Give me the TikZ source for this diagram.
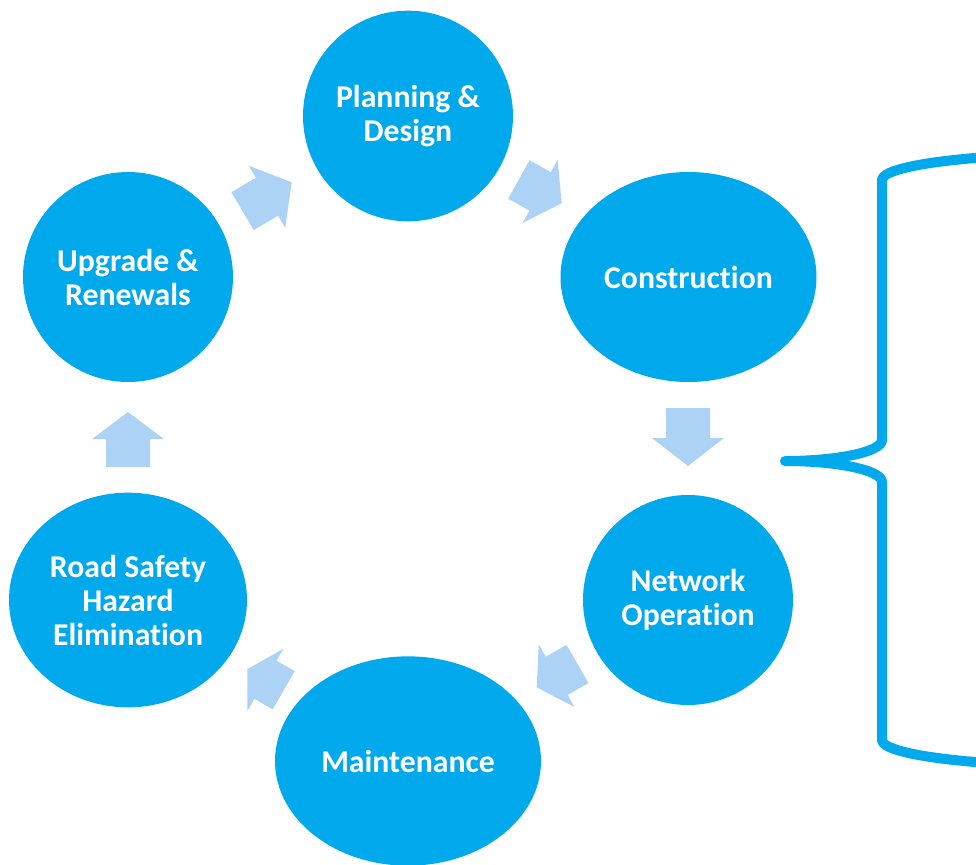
\documentclass[tikz,border=0pt]{standalone}
\usepackage{fontspec}
\setmainfont{Carlito}[RawFeature=-liga]
\usetikzlibrary{shapes.geometric}
\definecolor{cycblue}{RGB}{0,168,236}
\definecolor{arrblue}{RGB}{172,210,245}
\newcommand\blockarrow[6]{% name, tip x, tip y, angle, length, head length
  \coordinate (#1) at (#2,#3);
  \fill[arrowfill, shift={(#1)}, rotate=#4] (0,0) -- (-#6,36) -- (-#6,22) -- (-#5,22) -- (-#5,-22) -- (-#6,-22) -- (-#6,-36) -- cycle;}
\begin{document}
\begin{tikzpicture}[x=0.75pt,y=-0.75pt,
  stage/.style={ellipse, fill=cycblue, draw=none, inner sep=0pt, text=white,
    font=\bfseries\fontsize{23.8pt}{25.5pt}\selectfont, align=center},
  arrowfill/.style={fill=arrblue},
  bracestyle/.style={draw=cycblue, line width=7.5pt, line cap=round, line join=round}]
\useasboundingbox (0,0) rectangle (976,865);
\clip (0,0) rectangle (976,865);
\node[stage, minimum width=157.5pt, minimum height=158pt] (plan) at (408,116) {Planning \&\\Design};
\node[stage, minimum width=192pt, minimum height=157.5pt] (cons) at (688.5,277) {Construction};
\node[stage, minimum width=157.5pt, minimum height=157.5pt] (netw) at (688,600) {Network\\Operation};
\node[stage, minimum width=199.5pt, minimum height=157pt] (main) at (408,761) {Maintenance};
\node[stage, minimum width=178.5pt, minimum height=161pt] (road) at (128,600) {Road Safety\\Hazard\\Elimination};
\node[stage, minimum width=157.5pt, minimum height=157.5pt] (upgr) at (128,277) {Upgrade \&\\Renewals};
\blockarrow{a1}{291.7}{182.3}{30.4}{57}{28.6}
\blockarrow{a2}{561.7}{203.3}{-29}{49}{24.6}
\blockarrow{a3}{688}{466}{-90}{58}{28}
\blockarrow{a4}{536.7}{687.3}{-150.2}{47}{23}
\blockarrow{a5}{247.3}{669.3}{150}{42}{21}
\blockarrow{a6}{128}{412}{90}{55}{27}
\coordinate (btop) at (1082,154);
\coordinate (btip) at (785,461);
\coordinate (bbot) at (1082,766);
\draw[bracestyle] (btop) .. controls (971.5,154) and (882,165.6) .. (882,180)
  -- (882,440) .. controls (882,451.6) and (838.6,461) .. (btip)
  .. controls (838.6,461) and (882,470.4) .. (882,482)
  -- (882,740) .. controls (882,754.4) and (971.5,766) .. (bbot);
\end{tikzpicture}
\end{document}
